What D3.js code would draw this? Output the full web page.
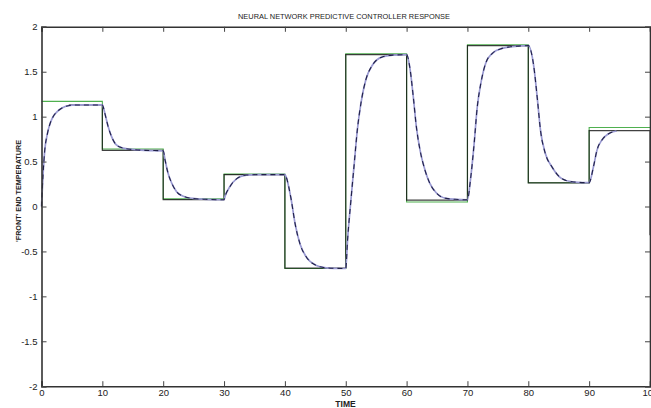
<!DOCTYPE html>
<html><head><meta charset="utf-8">
<script src="https://cdn.jsdelivr.net/npm/d3@7"></script>
<style>
html,body{margin:0;padding:0;background:#fff;overflow:hidden;}
text{font-family:"Liberation Sans Narrow","Liberation Sans",Arial,sans-serif;fill:#222;}
</style></head>
<body>
<svg id="chart" width="651" height="408"></svg>
<script>
// ---- data ----
const title = "NEURAL NETWORK PREDICTIVE CONTROLLER RESPONSE";
const xLabel = "TIME";
const yLabel = "'FRONT' END TEMPERATURE";
const xTicks = [0,10,20,30,40,50,60,70,80,90,100];
const yTicks = [-2,-1.5,-1,-0.5,0,0.5,1,1.5,2];
const yTickLabels = ["-2","-1.5","-1","-0.5","0","0.5","1","1.5","2"];

// reference (green) step signal: value holds from each time to the next
const refTimes  = [0,10,20,30,40,50,60,70,80,90,100];
const refLevels = [1.17,0.64,0.085,0.36,-0.69,1.70,0.05,1.80,0.265,0.88,0.88];

// black step signal
const blkTimes  = [4.5,10,20,30,40,50,60,70,80,90,100];
const blkLevels = [1.13,0.625,0.076,0.355,-0.685,1.69,0.072,1.79,0.262,0.845,-0.32];

// smooth response curve (plant output)
const respX = [0,0.25,0.5,1,1.5,2,2.5,3,4,5,6,8,10,
  10.4,10.95,11.5,12.3,13.4,14.9,17,20,
  20.3,20.8,21.4,22.2,23.3,24.9,27,30,
  30.15,30.95,32.1,33.7,36,40,
  40.2,41.0,41.7,42.5,43.6,45.1,46.5,48,50,
  50.3,50.85,51.4,51.9,52.5,53.3,54.4,56,57.7,60,
  60.5,61.1,61.6,62.2,63,63.8,64.9,66.5,68,70,
  70.5,71.1,71.6,72.2,73,74.1,75.7,77.4,80,
  80.9,81.5,82,82.8,83.9,85.5,87.2,90,
  90.7,91.3,92.1,93.2,94.5];
const respY = [0,0.35,0.6,0.82,0.94,1.01,1.05,1.08,1.115,1.128,1.13,1.13,1.13,
  1.04,0.89,0.78,0.685,0.65,0.635,0.625,0.62,
  0.52,0.37,0.26,0.165,0.115,0.09,0.08,0.075,
  0.11,0.22,0.31,0.35,0.355,0.355,
  0.33,0.09,-0.2,-0.42,-0.57,-0.655,-0.68,-0.688,-0.69,
  -0.37,0.07,0.48,0.85,1.15,1.41,1.575,1.665,1.685,1.69,
  1.56,1.22,0.89,0.63,0.41,0.26,0.15,0.09,0.08,0.075,
  0.30,0.70,1.10,1.37,1.595,1.705,1.76,1.78,1.79,
  1.56,1.19,0.85,0.59,0.44,0.31,0.275,0.265,
  0.44,0.63,0.74,0.81,0.84];

// ---- drawing ----
const svg = d3.select("#chart");
const x = d3.scaleLinear().domain([0,100]).range([41.5,650]);
const y = d3.scaleLinear().domain([-2,2]).range([386.2,26.8]);

const plot = svg.append("g");

// green reference
const refData = refTimes.map((t,i)=>[t,refLevels[i]]);
plot.append("path").datum(refData)
  .attr("d", d3.line().x(d=>x(d[0])).y(d=>y(d[1])).curve(d3.curveStepAfter))
  .attr("fill","none").attr("stroke","#4fb04f").attr("stroke-width",1.1);

// black step
const blkData = blkTimes.map((t,i)=>[t,blkLevels[i]]);
plot.append("path").datum(blkData)
  .attr("d", d3.line().x(d=>x(d[0])).y(d=>y(d[1])).curve(d3.curveStepAfter))
  .attr("fill","none").attr("stroke","#111").attr("stroke-width",1.2).attr("stroke-opacity",0.8);

// response curve: blue solid with black dashes
const respData = respX.map((t,i)=>[t,respY[i]]);
const respLine = d3.line().x(d=>x(d[0])).y(d=>y(d[1])).curve(d3.curveMonotoneX);
plot.append("path").datum(respData).attr("d",respLine)
  .attr("fill","none").attr("stroke","#9a9ad2").attr("stroke-width",1.7);
plot.append("path").datum(respData).attr("d",respLine)
  .attr("fill","none").attr("stroke","#202048").attr("stroke-width",1.1)
  .attr("stroke-dasharray","5,4");

// axes (box with inward ticks)
const tickLen = 5;
const axBottom = d3.axisBottom(x).tickValues(xTicks).tickSize(-tickLen).tickPadding(3).tickFormat(d3.format("d"));
const axTop = d3.axisTop(x).tickValues(xTicks).tickSize(-tickLen).tickFormat("");
const axLeft = d3.axisLeft(y).tickValues(yTicks).tickSize(-tickLen).tickPadding(4)
  .tickFormat((d,i)=>yTickLabels[i]);
const axRight = d3.axisRight(y).tickValues(yTicks).tickSize(-tickLen).tickFormat("");

function style(g){
  g.select(".domain").attr("stroke","#333").attr("stroke-width",1.6);
  g.selectAll(".tick line").attr("stroke","#444").attr("stroke-width",1);
  g.selectAll(".tick text").attr("font-size","9.5px").attr("fill","#222");
}
svg.append("g").attr("transform","translate(0,386.2)").call(axBottom).call(style);
svg.append("g").attr("transform","translate(0,26.8)").call(axTop).call(style);
svg.append("g").attr("transform","translate(41.5,0)").call(axLeft).call(style);
svg.append("g").attr("transform","translate(650,0)").call(axRight).call(style);

// title and labels
svg.append("text").attr("x",344).attr("y",18.5).attr("text-anchor","middle")
  .attr("font-size","8px").attr("textLength",212).attr("lengthAdjust","spacingAndGlyphs")
  .text(title);
svg.append("text").attr("x",345.5).attr("y",407).attr("text-anchor","middle")
  .attr("font-size","8.5px").attr("font-weight","bold").text(xLabel);
svg.append("text").attr("transform","translate(21,191) rotate(-90)").attr("text-anchor","middle")
  .attr("font-size","8px").attr("font-weight","bold")
  .attr("textLength",102).attr("lengthAdjust","spacingAndGlyphs").text(yLabel);
</script>
</body></html>
